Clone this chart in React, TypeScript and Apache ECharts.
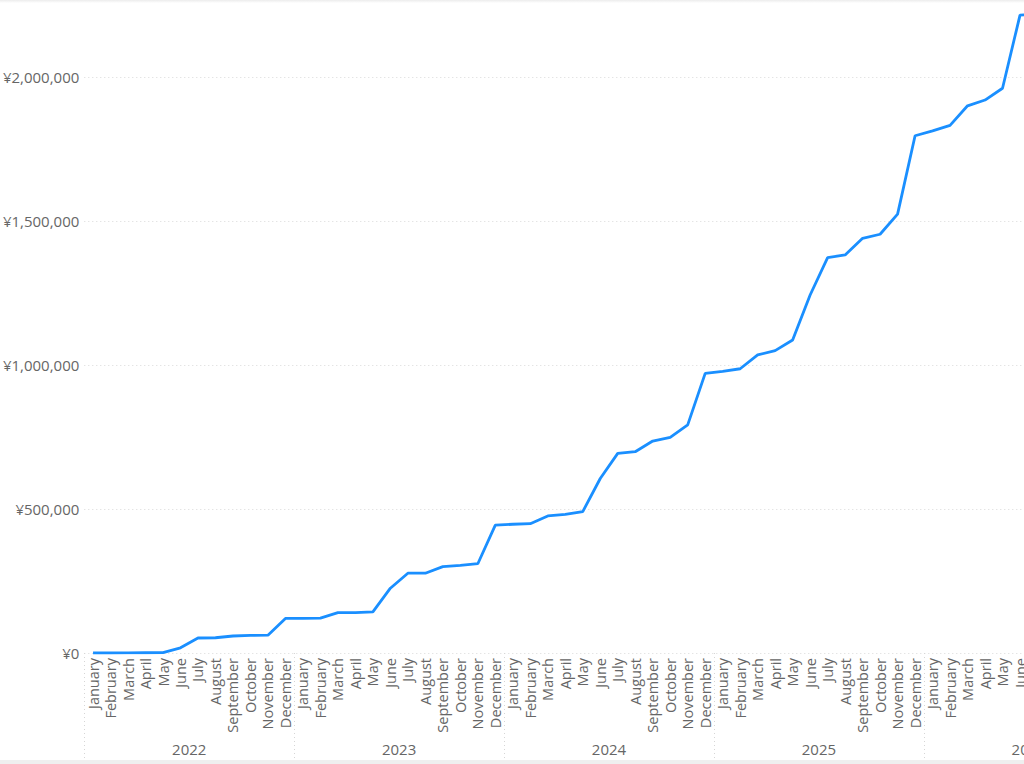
import { useEffect, useRef } from 'react'
import * as echarts from 'echarts'

const monthNames = [
  'January', 'February', 'March', 'April', 'May', 'June',
  'July', 'August', 'September', 'October', 'November', 'December',
]
const years = ['2022', '2023', '2024', '2025', '2026']

// cumulative amount per month, Jan 2022 .. Jul 2026
const values2022 = [0, 0, 500, 800, 1000, 18000, 52000, 53000, 59000, 61000, 62000, 120000]
const values2023 = [120000, 121000, 140000, 140000, 143000, 225000, 277000, 277000, 300000, 304000, 310000, 444000]
const values2024 = [447000, 449000, 476000, 481000, 491000, 606000, 693000, 699000, 736000, 749000, 792000, 971000]
const values2025 = [978000, 987000, 1035000, 1050000, 1087000, 1243000, 1373000, 1382000, 1440000, 1454000, 1524000, 1796000]
const values2026 = [1813000, 1832000, 1900000, 1920000, 1961000, 2215000, 2217000, null, null, null, null, null]

const yTicks = [0, 500000, 1000000, 1500000, 2000000, 2500000]

const FONT = '"Open Sans", "Noto Sans", sans-serif'
const TEXT = '#666666'

export default function App() {
  const chartRef = useRef<HTMLDivElement>(null)

  useEffect(() => {
    if (!chartRef.current) return
    const chart = echarts.init(chartRef.current, undefined, { renderer: 'svg' })

    const months: string[] = []
    years.forEach(() => months.push(...monthNames))
    const values = [...values2022, ...values2023, ...values2024, ...values2025, ...values2026]

    const option: any = {
      animation: false,
      grid: {
        left: 84.3,
        width: 1049.4,
        top: 33,
        height: 720,
        containLabel: false,
        outerBoundsMode: 'none',
      },
      xAxis: [
        {
          type: 'category',
          data: months,
          axisLine: { show: false },
          axisTick: { show: false },
          axisLabel: {
            interval: 0,
            rotate: 90,
            margin: 5,
            fontSize: 14.5,
            fontFamily: FONT,
            color: TEXT,
          },
        },
        {
          type: 'category',
          data: years,
          position: 'bottom',
          axisLine: { show: false },
          axisTick: {
            show: true,
            interval: 0,
            length: 107,
            lineStyle: { type: [1, 3], color: '#d6d6d6', width: 1 },
          },
          axisLabel: {
            interval: 0,
            margin: 88,
            fontSize: 15,
            fontFamily: FONT,
            color: TEXT,
          },
        },
      ],
      yAxis: {
        type: 'value',
        min: yTicks[0],
        max: yTicks[yTicks.length - 1],
        interval: yTicks[1] - yTicks[0],
        axisLine: { show: false },
        axisTick: { show: false },
        axisLabel: {
          margin: 5,
          fontSize: 15,
          fontFamily: FONT,
          color: TEXT,
          showMaxLabel: false,
          formatter: (v: number) => '¥' + v.toLocaleString('en-US'),
        },
        splitLine: {
          lineStyle: { type: [1, 3], color: '#d9d9d9', width: 1 },
        },
      },
      series: [
        {
          type: 'line',
          xAxisIndex: 0,
          data: values,
          showSymbol: false,
          lineStyle: { color: '#1A8FFF', width: 2.8 },
        },
      ],
    }

    chart.setOption(option)
    return () => chart.dispose()
  }, [])

  return (
    <div
      style={{
        position: 'fixed',
        left: 0,
        top: 0,
        width: 1024,
        height: 764,
        overflow: 'hidden',
        background: '#fff',
      }}
    >
      <div
        ref={chartRef}
        style={{ position: 'absolute', left: 0, top: -100, width: 1150, height: 900 }}
      />
      <div
        style={{
          position: 'absolute',
          left: 0,
          top: 0,
          width: 1024,
          height: 3,
          background: 'linear-gradient(#ececec, #fff)',
        }}
      />
      <div
        style={{
          position: 'absolute',
          left: 0,
          top: 760,
          width: 1024,
          height: 4,
          background: '#efefef',
        }}
      />
    </div>
  )
}
